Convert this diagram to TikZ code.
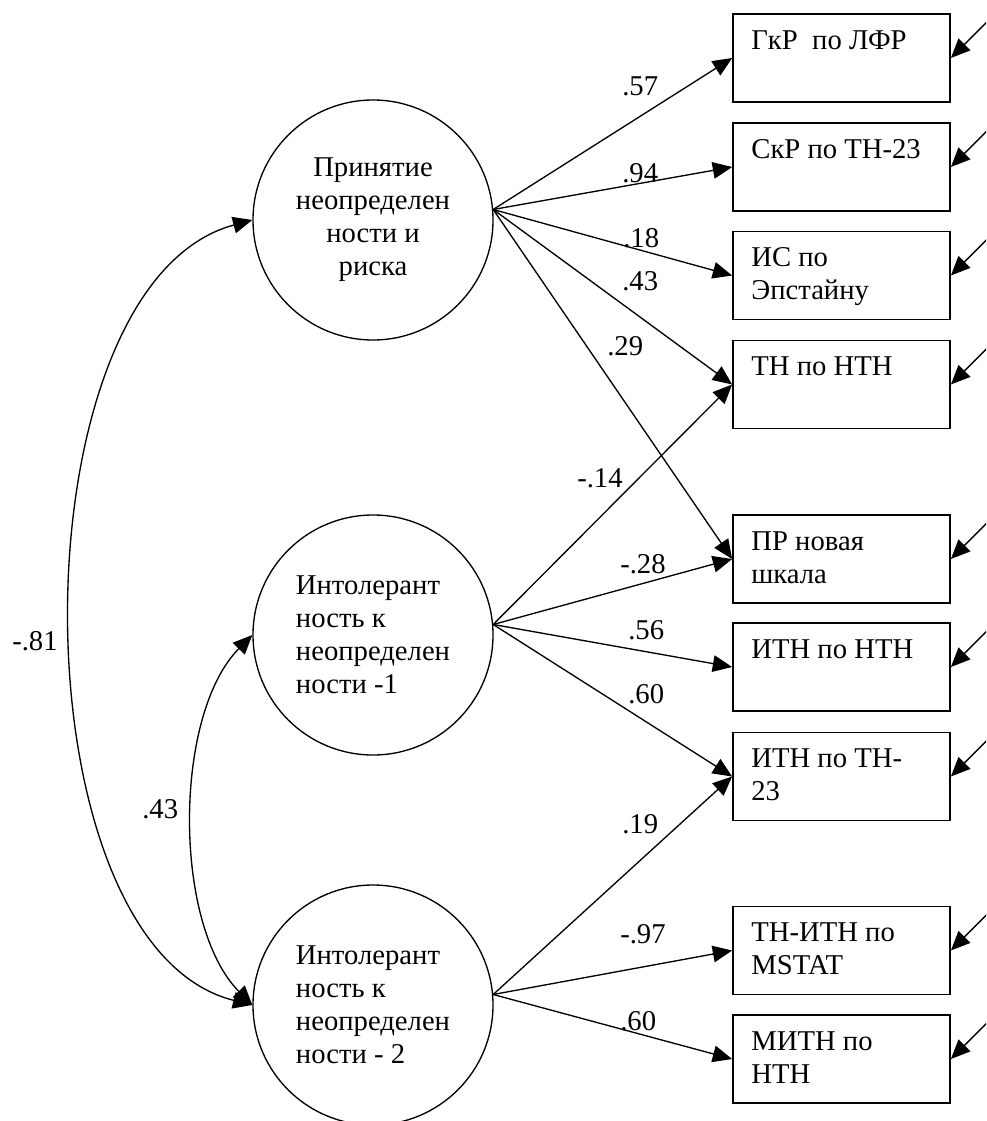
\documentclass[tikz,border=0pt]{standalone}
\usepackage{fontspec}
\setmainfont{Liberation Serif}
\usetikzlibrary{arrows.meta,calc}
\tikzset{
  txt/.style={font=\fontsize{21.5pt}{24.75pt}\selectfont},
  latent/.style={circle,draw,line width=1pt,minimum size=180pt,inner sep=0pt,txt},
  obsbox/.style={rectangle,draw,line width=1.3pt,minimum width=162.75pt,minimum height=66pt,inner sep=0pt},
  btext/.style={txt,align=left,anchor=base west,inner sep=0pt},
  coef/.style={txt,anchor=base west,inner sep=0pt},
  tip/.tip={Triangle[length=14.5pt,width=12.5pt]},
  path/.style={-tip,line width=1pt},
  cov/.style={tip-tip,line width=1pt},
}
\begin{document}
\begin{tikzpicture}[x=0.75pt,y=-0.75pt]
\useasboundingbox (0,0) rectangle (986,1121);
\clip (0,0) rectangle (986,1121);
% latent variables
\node[latent,align=center] (f1) at (373,220) {Принятие\\неопределен\\ности и\\риска};
\node[latent,align=left] (f2) at (373,635) {Интолерант\\ность к\\неопределен\\ности -1};
\node[latent,align=left] (f3) at (373,1005) {Интолерант\\ность к\\неопределен\\ности - 2};
% observed variables
\node[obsbox] (b1) at (841.5,58) {};
\node[obsbox] (b2) at (841.5,167) {};
\node[obsbox] (b3) at (841.5,275.5) {};
\node[obsbox] (b4) at (841.5,384.5) {};
\node[obsbox] (b5) at (841.5,559) {};
\node[obsbox] (b6) at (841.5,667) {};
\node[obsbox] (b7) at (841.5,776.5) {};
\node[obsbox] (b8) at (841.5,950.5) {};
\node[obsbox] (b9) at (841.5,1059) {};
\node[btext] (t1) at ($(b1.north west)+(19,36)$) {ГкР\ \ по ЛФР};
\node[btext] (t2) at ($(b2.north west)+(19,36)$) {СкР по ТН-23};
\node[btext] (t3) at ($(b3.north west)+(19,69)$) {ИС по\\Эпстайну};
\node[btext] (t4) at ($(b4.north west)+(19,36)$) {ТН по НТН};
\node[btext] (t5) at ($(b5.north west)+(19,69)$) {ПР новая\\шкала};
\node[btext] (t6) at ($(b6.north west)+(19,36)$) {ИТН по НТН};
\node[btext] (t7) at ($(b7.north west)+(19,69)$) {ИТН по ТН-\\23};
\node[btext] (t8) at ($(b8.north west)+(19,69)$) {ТН-ИТН по\\MSTAT};
\node[btext] (t9) at ($(b9.north west)+(19,69)$) {МИТН по\\НТН};
% loadings
\draw[path] (f1.5) -- (b1.west);
\draw[path] (f1.5) -- (b2.west);
\draw[path] (f1.5) -- (b3.west);
\draw[path] (f1.5) -- (b4.west);
\draw[path] (f1.5) -- (b5.west);
\draw[path] (f2.5) -- (b4.west);
\draw[path] (f2.5) -- (b5.west);
\draw[path] (f2.5) -- (b6.west);
\draw[path] (f2.5) -- (b7.west);
\draw[path] (f3.5) -- (b7.west);
\draw[path] (f3.5) -- (b8.west);
\draw[path] (f3.5) -- (b9.west);
% coefficients
\node[coef] (c1) at (622,95) {.57};
\node[coef] (c2) at (622,182) {.94};
\node[coef] (c3) at (623,247) {.18};
\node[coef] (c4) at (622,290) {.43};
\node[coef] (c5) at (607,355) {.29};
\node[coef] (c6) at (577,487) {-.14};
\node[coef] (c7) at (620,573) {-.28};
\node[coef] (c8) at (628,639) {.56};
\node[coef] (c9) at (628,703) {.60};
\node[coef] (c10) at (622,833) {.19};
\node[coef] (c11) at (620,943) {-.97};
\node[coef] (c12) at (620,1030) {.60};
% error terms
\foreach \b in {b1,b2,b3,b4,b5,b6,b7,b8,b9}{
  \coordinate (e-\b) at ($(\b.east)+(50,-50)$);
  \draw[path] (e-\b) -- (\b.east);
}
% covariances
\draw[cov] (f3.west) .. controls (12,945) and (12,285) .. (f1.west);
\draw[cov] (f3.west) .. controls (173,925) and (173,715) .. (f2.west);
\node[coef] (r1) at (12,650) {-.81};
\node[coef] (r2) at (142,818) {.43};
\end{tikzpicture}
\end{document}
